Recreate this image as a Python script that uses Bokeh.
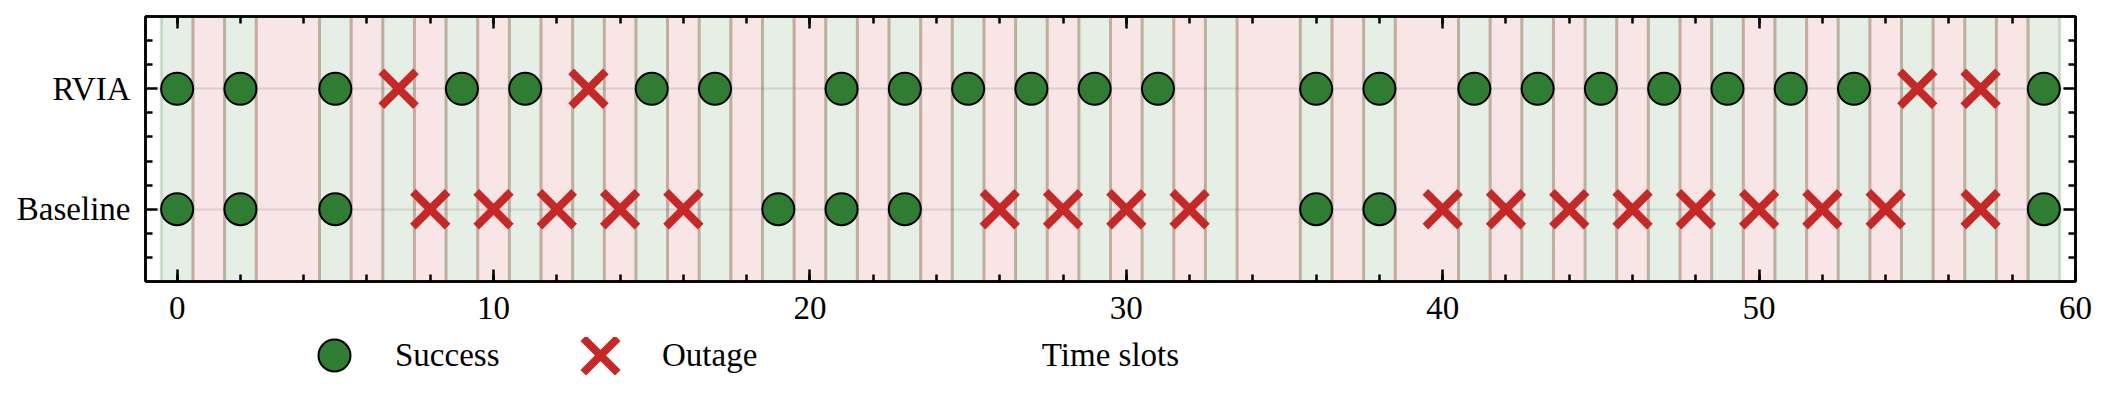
from bokeh.plotting import figure
from bokeh.layouts import column
from bokeh.models import (ColumnDataSource, FixedTicker, SingleIntervalTicker, LinearAxis,
                          Legend, LegendItem, Range1d, CustomJSTickFormatter, Label)
from bokeh.embed import file_html
from bokeh.resources import INLINE

# ---------------- data ----------------
n_slots = 60
green_slots = [0, 2, 5, 7, 9, 11, 13, 15, 17, 19, 21, 23, 25, 27, 29, 31, 33,
               36, 38, 41, 43, 45, 47, 49, 51, 53, 55, 57, 59]
rvia_success = [0, 2, 5, 9, 11, 15, 17, 21, 23, 25, 27, 29, 31, 36, 38,
                41, 43, 45, 47, 49, 51, 53, 59]
rvia_outage = [7, 13, 55, 57]
base_success = [0, 2, 5, 19, 21, 23, 36, 38, 59]
base_outage = [8, 10, 12, 14, 16, 26, 28, 30, 32, 40, 42, 44, 46, 48, 50, 52, 54, 57]
row_labels = {0: "Baseline", 1: "RVIA"}
row_values = {"RVIA": 1, "Baseline": 0}
x_label = "Time slots"

GREEN = "#2E7D32"
RED = "#C62828"
FONT = "Liberation Serif"
FS = "33px"

# ---------------- band runs ----------------
gset = set(green_slots)
runs = []
start = 0
for t in range(1, n_slots + 1):
    if t == n_slots or ((t in gset) != (start in gset)):
        runs.append((start - 0.5, t - 0.5, start in gset))
        start = t
band_src = ColumnDataSource(dict(
    left=[r[0] for r in runs], right=[r[1] for r in runs],
    color=[GREEN if r[2] else RED for r in runs]))

xr = Range1d(-1, 60)

# ---------------- main figure ----------------
H1 = 337
p = figure(width=2105, height=H1, output_backend="svg", toolbar_location=None,
           x_range=xr, y_range=Range1d(-0.6, 1.6),
           min_border_left=145, min_border_right=30, min_border_top=16,
           min_border_bottom=H1 - 281)
p.background_fill_color = "white"
p.border_fill_color = "white"
p.outline_line_color = "black"
p.outline_line_width = 2.5

p.quad(left="left", right="right", bottom=-0.6, top=1.6, source=band_src,
       fill_color="color", fill_alpha=0.12, line_color="color", line_alpha=0.22, line_width=3)

succ_src = ColumnDataSource(dict(
    x=rvia_success + base_success,
    y=[row_values["RVIA"]] * len(rvia_success) + [row_values["Baseline"]] * len(base_success)))
out_src = ColumnDataSource(dict(
    x=rvia_outage + base_outage,
    y=[row_values["RVIA"]] * len(rvia_outage) + [row_values["Baseline"]] * len(base_outage)))

SUCC_STYLE = dict(marker="circle", size=32, fill_color=GREEN, line_color="black", line_width=2)
OUT_STYLE = dict(marker="x", size=49, line_color=RED, line_width=8)

p.scatter("x", "y", source=succ_src, **SUCC_STYLE)
p.scatter("x", "y", source=out_src, **OUT_STYLE)

p.xgrid.visible = False
p.ygrid.ticker = FixedTicker(ticks=[0, 1])
p.ygrid.grid_line_color = "#b0b0b0"
p.ygrid.grid_line_alpha = 0.35
p.ygrid.grid_line_width = 2

xt = SingleIntervalTicker(interval=10, num_minor_ticks=5)
yt = FixedTicker(ticks=[0, 1], minor_ticks=[-0.4, -0.2, 0.2, 0.4, 0.6, 0.8, 1.2, 1.4])


def style(ax):
    ax.axis_line_color = "black"
    ax.axis_line_width = 2.5
    ax.major_tick_in = 12
    ax.major_tick_out = 0
    ax.minor_tick_in = 7
    ax.minor_tick_out = 0
    ax.major_tick_line_width = 2.5
    ax.minor_tick_line_width = 2.5
    ax.major_tick_line_color = "black"
    ax.minor_tick_line_color = "black"
    ax.major_label_text_font = FONT
    ax.major_label_text_font_size = FS
    ax.major_label_text_color = "black"


xa = p.xaxis[0]
xa.ticker = xt
style(xa)
xa.major_label_standoff = 15

ya = p.yaxis[0]
ya.ticker = yt
style(ya)
ya.major_label_overrides = row_labels
ya.major_label_standoff = 15

top_ax = LinearAxis(ticker=xt, formatter=CustomJSTickFormatter(code="return ''"))
style(top_ax)
top_ax.major_label_standoff = 0
p.add_layout(top_ax, "above")
right_ax = LinearAxis(ticker=yt, formatter=CustomJSTickFormatter(code="return ''"))
style(right_ax)
right_ax.major_label_standoff = 0
p.add_layout(right_ax, "right")

# ---------------- legend / x-label row ----------------
H2 = 399 - H1
p2 = figure(width=2105, height=H2, output_backend="svg", toolbar_location=None,
            x_range=xr, y_range=Range1d(0, 1), x_axis_type=None, y_axis_type=None,
            min_border_left=145, min_border_right=30, min_border_top=0, min_border_bottom=0)
p2.outline_line_color = None
p2.background_fill_color = "white"
p2.border_fill_color = "white"
p2.grid.visible = False

nan = float("nan")
ls = p2.scatter(x=[nan], y=[nan], **SUCC_STYLE)
lo = p2.scatter(x=[nan], y=[nan], **OUT_STYLE)


def make_legend(label, renderer, glyph, standoff, vx, vy):
    return Legend(items=[LegendItem(label=label, renderers=[renderer])],
                  orientation="horizontal", location=(vx, vy),
                  glyph_width=glyph, glyph_height=glyph, label_standoff=standoff,
                  padding=0, margin=0, border_line_color=None, background_fill_alpha=0,
                  label_text_font=FONT, label_text_font_size=FS, label_text_color="black")


ROW_C = 355 - H1          # row centre inside p2 (px from top)
leg_s = make_legend("Success", ls, 80, 21, 149, H2 - ROW_C - 40)
leg_o = make_legend("Outage", lo, 122, 1, 394, H2 - ROW_C - 61)
p2.add_layout(leg_s, "center")
p2.add_layout(leg_o, "center")

p2.add_layout(Label(x=29.5, y=H2 - ROW_C + 1, y_units="screen", text=x_label,
                    text_font=FONT, text_font_size=FS, text_color="black",
                    text_align="center", text_baseline="middle"))

open("out.html", "w").write(file_html(column(p, p2, spacing=0), INLINE))
